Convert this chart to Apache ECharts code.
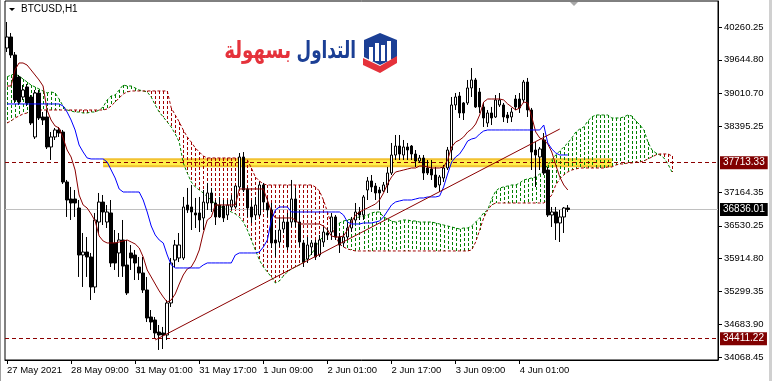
<!DOCTYPE html>
<html><head><meta charset="utf-8">
<script src="https://cdn.jsdelivr.net/npm/echarts@6/dist/echarts.min.js"></script>
<style>html,body{margin:0;padding:0;background:#fff;overflow:hidden}#c{width:772px;height:381px}</style>
</head><body><div id="c"></div>
<script>
// ---- data (BTCUSD H1) ----
const opens = [39866,40073,39735,39323,38947,39135,38947,38197,39022,38572,38572,38009,38197,38328,38290,37352,37033,37033,36864,35982,36038,35945,35382,36601,36976,36601,36771,36208,36020,36264,35794,36020,35982,35757,35645,35326,34819,34763,34537,34519,34481,35082,35888,35926,35926,36920,36883,36771,36771,36677,36958,37146,36958,36920,36901,36733,36883,36883,37259,37821,37221,36883,36733,36733,37296,36958,36827,36264,36226,36470,36601,36601,37033,36601,36208,35907,36133,36208,35982,36226,36395,36413,36696,36320,36208,36320,36489,36639,36789,36733,37202,37371,37277,37202,37183,37296,37521,37858,38027,37858,38009,38027,37877,37746,37802,37615,37596,37483,37296,37427,37615,37952,38797,38965,38835,38835,39116,39266,39040,38760,38459,38647,38572,38797,38797,38609,38572,38909,38909,38891,39228,38703,37952,37821,38140,37577,36733,36789,36583,36696,36864];
const closes = [40073,39735,38891,38853,39078,38835,38459,39022,38553,38515,38009,38197,38328,38272,37352,37014,36958,36958,35982,36038,35945,35382,36639,36976,36789,36789,35832,35832,36264,35775,35270,35926,35832,35645,35326,34800,34725,34519,34481,34481,35082,35832,36170,36170,36883,36827,36789,36733,36639,36976,37146,36958,36696,36696,36677,36920,37014,37277,37821,37202,36864,36696,36920,37296,36976,36827,36208,36208,36451,36601,36133,37033,36601,36226,35850,36170,36208,35945,36264,36413,36357,36696,36320,36170,36320,36489,36639,36789,36733,37071,37371,37259,37146,37146,37296,37521,37858,38027,37877,38009,37952,37877,37746,37802,37521,37521,37483,37259,37446,37615,37952,38797,38947,38647,38647,39116,39266,38760,38760,38553,38647,38553,38891,38891,38572,38553,38665,38760,38741,39228,38703,37914,37858,37971,37521,36733,36789,36583,36696,36864,36836.01];
const lows = [39791,39679,38835,38797,38891,38778,38421,38159,38515,38421,37971,37765,38140,38197,37315,36696,36639,36696,35570,35382,35570,35138,35270,36395,36545,36489,35757,35701,35570,35570,35232,35701,35513,35513,35270,34725,34575,34425,34200,34218,34387,35007,35757,35850,35888,36771,36451,36489,36413,36451,36827,36789,36545,36677,36601,36639,36827,36864,37202,37164,36696,36583,36639,36696,36827,36696,36114,35945,36133,36395,36076,36508,36508,36133,35757,35832,35982,35888,35945,36133,36264,36264,36264,36020,36133,36264,36413,36583,36639,36639,37014,37164,37014,36827,37164,37146,37483,37765,37765,37765,37765,37765,37634,37709,37390,37483,37390,37240,37164,37352,37577,37765,38703,38553,38515,38797,38947,38741,38647,38384,38384,38421,38553,38760,38477,38459,38477,38703,38647,38835,38572,37577,37259,37577,37484,36696,36508,36264,36226,36395,36789];
const highs = [40354,40148,39791,39360,39172,39191,38984,39078,39078,38665,38703,38290,38365,38384,38328,37390,37259,37202,37014,36395,36320,36020,36771,37146,37108,36920,37014,36451,36395,36639,36264,36170,36076,35945,35945,35570,34950,34819,34669,34632,35138,35926,36264,36395,37071,37240,37296,37052,37071,37202,37334,37240,37014,37071,37014,37014,37108,37296,37896,37914,37259,37014,37071,37352,37334,37052,36958,36451,36696,36677,36771,37390,37240,36827,36264,36320,36264,36264,36357,36508,36489,36771,36733,36395,36395,36583,36696,36958,36883,37108,37446,37483,37334,37259,37352,37634,38084,38234,38234,38140,38084,38046,37952,37858,37858,37765,37765,37634,37483,37671,38009,38947,39022,39040,38853,39266,39491,39304,39116,38835,38703,38760,38984,39022,38835,38665,38741,38984,39022,39266,39304,38741,38102,38009,38271,37634,36883,36883,36827,36883,36920];
const tenkan = [39153,39153,39454,39585,39585,39547,39454,39360,39266,39153,38703,38515,38403,38365,38178,37953,37821,37577,37108,36921,36864,36752,36620,36339,36245,36208,36208,36208,36226,36245,36264,36226,36189,36114,35945,35701,35570,35438,35307,35195,35100,35138,35251,35438,35607,35720,35758,35889,36076,36395,36639,36696,36921,36921,36921,36921,36921,36921,37221,37221,37221,37221,37221,37221,37221,37014,36789,36677,36677,36677,36677,36677,36639,36564,36564,36564,36564,36564,36564,36526,36452,36339,36320,36320,36339,36452,36601,36733,36789,36827,36864,36902,36939,37014,37146,37315,37446,37539,37558,37577,37596,37615,37615,37652,37652,37634,37615,37615,37615,37634,37765,38009,38102,38140,38197,38290,38346,38440,38609,38853,38909,38909,38909,38909,38891,38816,38760,38703,38741,38853,38835,38572,38290,38178,38140,38065,37915,37671,37446,37296,37202];
const kijun = [38816,38816,38816,38816,38816,38816,38816,38816,38816,38816,38816,38816,38816,38816,38778,38665,38515,38328,38046,37915,37803,37784,37784,37784,37784,37727,37577,37427,37221,37164,37164,37164,37164,37164,37014,36789,36526,36358,36264,36208,35982,35795,35739,35739,35739,35739,35739,35739,35739,35795,35833,35833,35833,35833,35833,35833,35833,35982,36020,36020,36020,36020,36020,36039,36133,36264,36639,36827,36883,36883,36883,36789,36789,36789,36789,36789,36789,36789,36789,36789,36789,36789,36789,36789,36733,36601,36564,36564,36564,36583,36583,36583,36601,36620,36696,36808,36921,36977,36996,37014,37014,37014,37033,37052,37052,37071,37071,37071,37090,37259,37502,37727,37821,37878,37990,38121,38159,38178,38253,38309,38328,38328,38328,38328,38328,38328,38328,38328,38328,38328,38328,38328,38328,38328,38421,38084,37971,37896,37859,37859,37859];
const spanA = [39323,39360,39379,39341,39285,39229,39172,39135,39097,39060,39022,39041,39022,38909,38778,38703,38684,38665,38665,38647,38647,38665,38665,38703,38760,38891,38966,38984,39078,39172,39153,39153,39116,39078,39060,39041,38947,38797,38665,38572,38478,38384,38253,38102,37709,37521,37352,37259,37202,37146,37071,37014,36939,36902,36864,36827,36789,36752,36696,36601,36452,36264,36076,35889,35758,35663,35570,35457,35495,35588,35663,35720,35758,35795,35851,35926,36001,36114,36245,36339,36414,36470,36526,36583,36620,36639,36658,36677,36696,36714,36733,36771,36789,36789,36696,36658,36620,36601,36620,36639,36639,36620,36620,36601,36601,36601,36601,36583,36564,36545,36526,36508,36489,36470,36489,36489,36526,36601,36677,36771,36827,37033,37183,37240,37259,37277,37296,37296,37334,37390,37409,37427,37446,37502,37577,37671,37765,37859,37934,38009,38084,38178,38290,38346,38384,38497,38572,38609,38609,38609,38609,38553,38553,38553,38572,38609,38590,38497,38421,38328,38102,37953,37896,37859,37803,37690,37540];
const spanB = [38459,38497,38553,38590,38628,38647,38665,38684,38703,38703,38703,38703,38703,38703,38703,38703,38703,38703,38703,38703,38703,38703,38703,38703,38703,38722,38778,38853,38928,39003,39041,39060,39060,39060,39060,39060,39060,39060,39060,39060,39060,38741,38609,38478,38328,38197,38102,37990,37915,37840,37803,37803,37803,37803,37803,37803,37803,37803,37803,37803,37765,37615,37446,37371,37315,37296,37296,37296,37296,37296,37296,37296,37296,37296,37296,37296,37296,37259,37183,37014,36789,36545,36339,36189,36133,36095,36076,36058,36058,36058,36058,36058,36058,36058,36058,36058,36058,36058,36058,36058,36058,36058,36058,36058,36058,36058,36058,36058,36058,36058,36058,36058,36058,36058,36058,36058,36076,36226,36452,36677,36827,36921,36958,36958,36958,36958,36958,36958,36958,36958,36958,36958,36958,36958,36958,37014,37108,37296,37409,37484,37540,37577,37596,37615,37615,37615,37615,37615,37615,37615,37634,37634,37671,37690,37690,37709,37709,37727,37727,37746,37784,37821,37859,37878,37878,37878,37840];
const priceTicks = [34068.45,34683.90,35299.35,35914.80,36530.25,37164.35,38395.25,39010.70,39644.80,40260.25];
const timeTickIndex = [0,16,32,48,64,80,96,112,128];
const timeTickLabels = ['27 May 2021','28 May 09:00','31 May 01:00','31 May 17:00','1 Jun 09:00','2 Jun 01:00','2 Jun 17:00','3 Jun 09:00','4 Jun 01:00'];
const resistanceLevel = 37713.33;
const supportLevel = 34411.22;
const currentPrice = 36836.01;
const trendLine = [[37,34388],[138,38346]];
const zoneEnds = [24,151];
const slotCount = 178;
const priceMin = 34012, priceMax = 40748;

// ---- build ----
const categories = Array.from({length: slotCount}, (_, i) => i);
const candles = opens.map((o, i) => [o, closes[i], lows[i], highs[i]]);
const labelMap = {};
timeTickIndex.forEach((k, j) => labelMap[k] = timeTickLabels[j]);
const FONT = 'Liberation Sans, Arial, sans-serif';
const DR = '#8B0000';
const HATCH_RED = '#A00000';
const HATCH_GREEN = '#008000';

const cloudUp = spanA.map((a, i) => a >= spanB[i] ? [i, a, spanB[i]] : [i, null, null]);
const cloudDown = spanA.map((a, i) => a < spanB[i] ? [i, a, spanB[i]] : [i, null, null]);

const chart = echarts.init(document.getElementById('c'), null, {renderer: 'canvas'});
function levelLine(v, color, type, bg, z) {
  return {
    type: 'line', data: [], z: z, silent: true,
    markLine: {
      silent: true, symbol: ['none', 'none'], animation: false,
      lineStyle: {color: color, type: type, width: 1},
      label: {show: true, position: 'end', distance: 2, formatter: () => v.toFixed(2),
        color: '#fff', backgroundColor: bg, padding: [2, 3, 1, 3], fontSize: 10, fontFamily: FONT},
      data: [{yAxis: v}]
    }
  };
}
function hatchSeries(data, col) {
  return {
    type: 'custom', silent: true, z: 2, data: data, encode: {x: 0, y: [1, 2]},
    itemStyle: {color: col},
    renderItem: (params, api) => {
      const a = api.value(1), b = api.value(2);
      if (a == null || b == null || isNaN(a) || isNaN(b)) return null;
      const i = api.value(0);
      const p1 = api.coord([i, a]), p2 = api.coord([i, b]);
      const x = Math.round(p1[0]);
      const top = Math.round(Math.min(p1[1], p2[1]));
      const bot = Math.round(Math.max(p1[1], p2[1]));
      const children = [];
      for (let y = top; y < bot; y += 5) {
        children.push({type: 'rect', shape: {x: x, y: y, width: 1, height: Math.min(3, bot - y)},
          style: {fill: col}});
      }
      return {type: 'group', children: children};
    }
  };
}
chart.setOption({
  animation: false,
  backgroundColor: '#ffffff',
  grid: {left: 5, right: 54, top: 1, bottom: 21, show: true, borderColor: '#000', borderWidth: 1, backgroundColor: 'transparent'},
  xAxis: {
    type: 'category', data: categories, boundaryGap: true,
    axisLine: {lineStyle: {color: '#000'}},
    axisTick: {show: true, alignWithLabel: true, length: 4, lineStyle: {color: '#000'},
      interval: (i) => labelMap[i] !== undefined},
    axisLabel: {show: true, interval: (i) => labelMap[i] !== undefined, formatter: (v, i) => labelMap[i] || '',
      align: 'left', margin: 5, color: '#000', fontSize: 9.5, fontFamily: FONT},
    splitLine: {show: false}
  },
  yAxis: {
    type: 'value', position: 'right', min: priceMin, max: priceMax, scale: true,
    axisLine: {show: true, lineStyle: {color: '#000'}},
    axisTick: {show: true, length: 4, customValues: priceTicks, lineStyle: {color: '#000'}},
    axisLabel: {customValues: priceTicks, formatter: (v) => v.toFixed(2), color: '#000', fontSize: 9.5, fontFamily: FONT, margin: 6},
    splitLine: {show: false}
  },
  series: [
    {type: 'line', data: zoneEnds.map(i => [i, resistanceLevel]), symbol: 'none', silent: true, z: 1,
      lineStyle: {color: '#F2C230', width: 9, cap: 'butt'}},
    {type: 'line', data: zoneEnds.map(i => [i, resistanceLevel]), symbol: 'none', silent: true, z: 1,
      lineStyle: {color: '#FFF04A', width: 5, cap: 'butt'}},
    hatchSeries(cloudUp, HATCH_GREEN),
    hatchSeries(cloudDown, HATCH_RED),
    {type: 'line', data: spanA, symbol: 'none', silent: true, z: 3, lineStyle: {color: HATCH_GREEN, width: 1, type: [3, 2]}},
    {type: 'line', data: spanB, symbol: 'none', silent: true, z: 3, lineStyle: {color: HATCH_RED, width: 1, type: [3, 2]}},
    levelLine(currentPrice, '#C0C0C0', 'solid', '#000000', 3),
    {type: 'candlestick', data: candles, barWidth: 3, silent: true, z: 5,
      itemStyle: {color: '#ffffff', color0: '#000000', borderColor: '#000000', borderColor0: '#000000', borderWidth: 1}},
    {type: 'line', data: tenkan, symbol: 'none', silent: true, z: 6, lineStyle: {color: DR, width: 1}},
    {type: 'line', data: kijun, symbol: 'none', silent: true, z: 6, lineStyle: {color: '#0000FF', width: 1}},
    {type: 'line', data: trendLine, symbol: 'none', silent: true, z: 6, lineStyle: {color: DR, width: 1}},
    levelLine(resistanceLevel, DR, [4, 3], '#800000', 7),
    levelLine(supportLevel, DR, [4, 3], '#800000', 7)
  ],
  graphic: [
    {type: 'rect', shape: {x: 0, y: 0, width: 1, height: 381}, style: {fill: '#a0a0a0'}, silent: true},
    {type: 'rect', shape: {x: 769, y: 0, width: 3, height: 381}, style: {fill: '#d0d0d0'}, silent: true},
    {type: 'polygon', shape: {points: [[9, 8], [15, 8], [12, 11]]}, style: {fill: '#000'}, silent: true},
    {type: 'text', x: 21, y: 9, style: {text: 'BTCUSD,H1', fill: '#000', font: '10px ' + FONT, textVerticalAlign: 'middle'}, silent: true},
    {type: 'polygon', shape: {points: [[570, 2], [578, 2], [574, 6]]}, style: {fill: '#a8a8a8'}, silent: true},
    {type: 'text', x: 356, y: 52, scaleX: 0.7, style: {text: 'التداول', fill: '#1B3F95', font: 'bold 24px "DejaVu Sans"', textAlign: 'right', textVerticalAlign: 'middle'}, silent: true},
    {type: 'text', x: 291, y: 52, scaleX: 0.76, style: {text: 'بسهولة', fill: '#E5323B', font: 'bold 24px "DejaVu Sans"', textAlign: 'right', textVerticalAlign: 'middle'}, silent: true},
    {type: 'polygon', shape: {points: [[364, 40], [380, 33], [397, 40], [397, 57], [380, 65], [364, 57]]}, style: {fill: '#1B3F95'}, silent: true},
    {type: 'rect', shape: {x: 369, y: 47, width: 4, height: 14}, style: {fill: '#fff'}, silent: true},
    {type: 'rect', shape: {x: 375, y: 43, width: 4, height: 18}, style: {fill: '#fff'}, silent: true},
    {type: 'rect', shape: {x: 381, y: 45, width: 4, height: 16}, style: {fill: '#fff'}, silent: true},
    {type: 'rect', shape: {x: 387, y: 41, width: 4, height: 20}, style: {fill: '#fff'}, silent: true},
    {type: 'polygon', shape: {points: [[363, 58], [380, 66], [397, 56], [397, 63], [380, 73], [363, 65]]}, style: {fill: '#E5323B'}, silent: true}
  ]
});
</script>
</body></html>
